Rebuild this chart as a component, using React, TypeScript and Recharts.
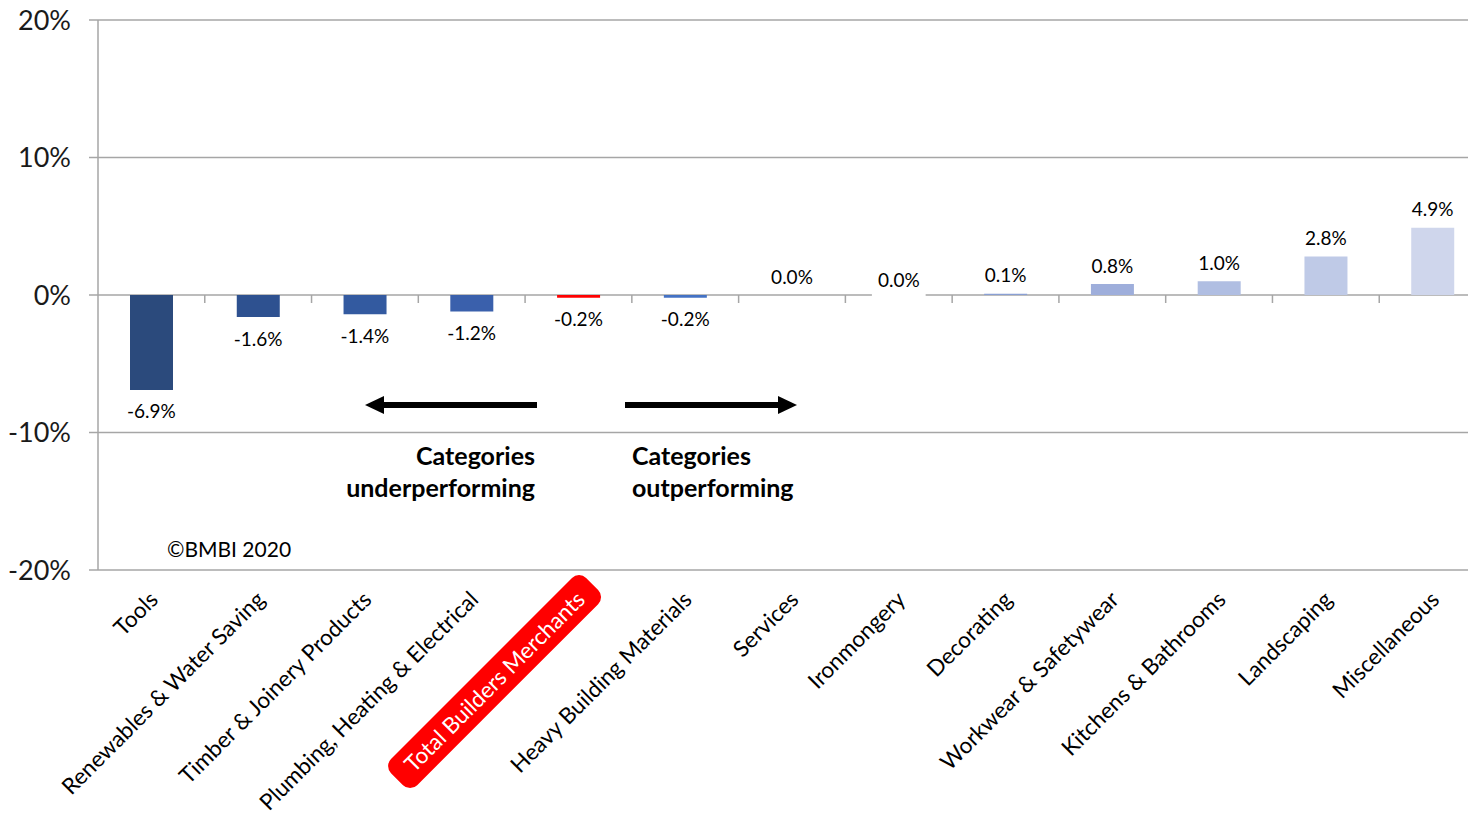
import React from 'react';
import { ComposedChart, Bar, Line, XAxis, YAxis, CartesianGrid, Cell, LabelList, ReferenceLine } from 'recharts';

const categories = [
  'Tools',
  'Renewables & Water Saving',
  'Timber & Joinery Products',
  'Plumbing, Heating & Electrical',
  'Total Builders Merchants',
  'Heavy Building Materials',
  'Services',
  'Ironmongery',
  'Decorating',
  'Workwear & Safetywear',
  'Kitchens & Bathrooms',
  'Landscaping',
  'Miscellaneous',
];
const changes = [-6.9, -1.6, -1.4, -1.2, -0.2, -0.2, 0.0, 0.0, 0.1, 0.8, 1.0, 2.8, 4.9];
const barColors = [
  '#2B4A7C', '#2E5190', '#335AA0', '#3A60AC', '#FF0000', '#4472C4', '#5B7FCB',
  '#7A93D0', '#8AA0D4', '#9EAEDB', '#B0BEE2', '#BFCAE7', '#CFD6EC',
];
const yTicks = [-20, -10, 0, 10, 20];
const highlighted = 'Total Builders Merchants';
const boxedLabel = 'Ironmongery';
const annotationLeft = ['Categories', 'underperforming'];
const annotationRight = ['Categories', 'outperforming'];
const copyright = '©BMBI 2020';

const data = categories.map((name, i) => ({ name, value: changes[i] }));

const FONT = 'Lato, Carlito, Calibri, sans-serif';
const GRID = '#A6A6A6';

let ctx: CanvasRenderingContext2D | null = null;
function measure(text: string, font: string): number {
  if (!ctx) ctx = document.createElement('canvas').getContext('2d');
  if (!ctx) return text.length * 12;
  ctx.font = font;
  return ctx.measureText(text).width;
}

const CategoryTick = (props: any) => {
  const { x, y, payload } = props;
  const name = String(payload.value);
  const hl = name === highlighted;
  const w = hl ? measure(name, `22.5px Lato`) : 0;
  return (
    <g transform={`translate(${x + 2},${y + 25}) rotate(-45)`}>
      {hl && <rect x={-w - 16} y={-18} width={w + 32} height={37} rx={10} ry={10} fill="#FF0000" />}
      <text
        x={0}
        y={0}
        textAnchor="end"
        dominantBaseline="central"
        fontFamily={FONT}
        fontSize={22.5}
        fill={hl ? '#FFFFFF' : '#000000'}
      >
        {name}
      </text>
    </g>
  );
};

const ValueLabel = (props: any) => {
  const { x, y, value, index } = props;
  const v = Number(value);
  const ly = v < 0 ? y + 21 : y - 19;
  const text = `${v.toFixed(1)}%`;
  const boxed = categories[index] === boxedLabel;
  const tw = measure(text, `19px Lato`);
  return (
    <g>
      {boxed && <rect x={x - tw / 2 - 6} y={ly - 11} width={tw + 12} height={32} fill="#FFFFFF" />}
      <text
        x={x}
        y={boxed ? ly + 3 : ly}
        textAnchor="middle"
        dominantBaseline="central"
        fontFamily={FONT}
        fontSize={19}
        fill="#000000"
      >
        {text}
      </text>
    </g>
  );
};

const ZeroTicks = (props: any) => {
  const { x1, y1, x2 } = props;
  if (x1 == null || x2 == null) return null;
  const n = categories.length;
  const step = (x2 - x1) / n;
  const marks = [];
  for (let i = 1; i < n; i++) {
    const xx = x1 + step * i;
    marks.push(<line key={i} x1={xx} x2={xx} y1={y1} y2={y1 + 8} stroke={GRID} strokeWidth={1.5} />);
  }
  return <g>{marks}</g>;
};

export default function App() {
  return (
    <div
      style={{
        position: 'fixed',
        left: 0,
        top: 0,
        width: 1468,
        height: 820,
        overflow: 'hidden',
        background: '#FFFFFF',
      }}
    >
      <ComposedChart
        width={1490}
        height={820}
        data={data}
        margin={{ top: 20, right: 4, left: 8, bottom: 0 }}
        barSize={43}
      >
        <CartesianGrid vertical={false} stroke={GRID} strokeWidth={1.5} />
        <YAxis
          type="number"
          domain={[-20, 20]}
          ticks={yTicks}
          width={90}
          tickFormatter={(v: number) => `${v}%`}
          axisLine={{ stroke: GRID, strokeWidth: 1.5 }}
          tickLine={{ stroke: GRID, strokeWidth: 1.5 }}
          tickSize={9}
          tickMargin={18}
          tick={{ fontFamily: FONT, fontSize: 27, fill: '#1A1A1A' }}
        />
        <XAxis
          dataKey="name"
          type="category"
          height={250}
          axisLine={false}
          tickLine={false}
          tickSize={0}
          tickMargin={0}
          interval={0}
          tick={<CategoryTick />}
        />
        <ReferenceLine y={0} stroke="none" shape={<ZeroTicks />} />
        <Bar dataKey="value" isAnimationActive={false}>
          {data.map((d, i) => (
            <Cell key={d.name} fill={barColors[i]} />
          ))}
        </Bar>
        <Line
          dataKey="value"
          stroke="none"
          dot={false}
          activeDot={false}
          isAnimationActive={false}
          legendType="none"
        >
          <LabelList dataKey="value" content={<ValueLabel />} />
        </Line>
      </ComposedChart>
      <svg
        width={1468}
        height={820}
        style={{ position: 'absolute', left: 0, top: 0, pointerEvents: 'none' }}
      >
        <line x1={378} y1={405} x2={537} y2={405} stroke="#000" strokeWidth={6} />
        <polygon points="365,405 384,396 384,414" fill="#000" />
        <line x1={625} y1={405} x2={782} y2={405} stroke="#000" strokeWidth={6} />
        <polygon points="797,405 778,396 778,414" fill="#000" />
        <text x={535} y={455} textAnchor="end" dominantBaseline="central" fontFamily={FONT} fontWeight="bold" fontSize={25} fill="#000">
          {annotationLeft[0]}
        </text>
        <text x={535} y={487} textAnchor="end" dominantBaseline="central" fontFamily={FONT} fontWeight="bold" fontSize={25} fill="#000">
          {annotationLeft[1]}
        </text>
        <text x={632} y={455} textAnchor="start" dominantBaseline="central" fontFamily={FONT} fontWeight="bold" fontSize={25} fill="#000">
          {annotationRight[0]}
        </text>
        <text x={632} y={487} textAnchor="start" dominantBaseline="central" fontFamily={FONT} fontWeight="bold" fontSize={25} fill="#000">
          {annotationRight[1]}
        </text>
        <text x={167} y={548} textAnchor="start" dominantBaseline="central" fontFamily={FONT} fontSize={21} fill="#000">
          {copyright}
        </text>
      </svg>
    </div>
  );
}
